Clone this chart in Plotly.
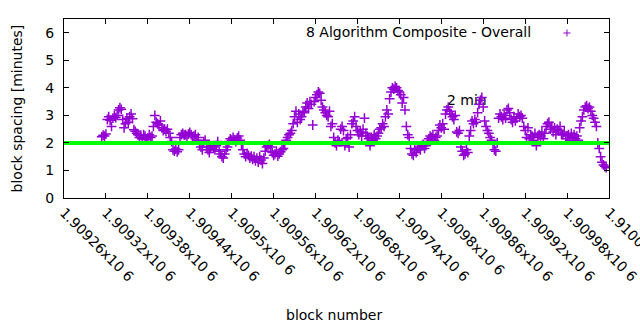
import plotly.graph_objects as go

# Block spacing (minutes) for the 8-algorithm composite, one sample every 2 blocks
block_start = 1909314
block_step = 2
spacing_min = [
    2.22, 2.28, 2.25, 2.32, 2.85, 2.95, 2.82, 2.60, 2.90, 2.98,
    2.92, 3.00, 3.20, 3.28, 3.22, 2.85, 2.55, 2.70, 2.90, 2.75,
    2.95, 3.05, 2.88, 2.48, 2.42, 2.35, 2.30, 2.20, 2.28, 2.15,
    2.30, 2.25, 2.12, 2.18, 2.30, 2.20, 2.25, 2.60, 3.00, 2.75,
    2.70, 2.65, 2.80, 2.55, 2.45, 2.50, 2.42, 2.50, 2.35, 2.20,
    2.05, 1.75, 1.70, 1.78, 1.68, 1.75, 2.20, 2.30, 2.35, 2.28,
    2.30, 2.25, 2.32, 2.38, 2.30, 2.22, 2.25, 2.30, 2.10, 2.20,
    1.95, 1.85, 1.75, 2.05, 2.10, 1.85, 1.75, 1.65, 1.80, 1.90,
    1.85, 1.75, 1.90, 2.05, 1.70, 1.60, 1.50, 1.45, 1.60, 1.75,
    1.85, 2.05, 2.15, 2.10, 2.20, 2.12, 2.05, 2.18, 2.25, 2.10,
    1.95, 1.75, 1.60, 1.50, 1.62, 1.55, 1.45, 1.52, 1.40, 1.50,
    1.35, 1.45, 1.30, 1.50, 1.38, 1.25, 1.45, 1.70, 1.85, 1.90,
    1.95, 1.85, 1.65, 1.55, 1.60, 1.70, 1.52, 1.60, 1.68, 1.75,
    1.80, 1.95, 2.10, 2.20, 2.30, 2.35, 2.45, 2.70, 2.95, 3.15,
    2.75, 3.05, 2.85, 2.95, 3.10, 3.15, 3.30, 3.45, 3.25, 3.50,
    3.40, 2.65, 3.50, 3.65, 3.75, 3.85, 3.80, 3.55, 3.30, 3.20,
    3.10, 3.00, 2.95, 3.15, 2.60, 2.70, 2.20, 2.00, 1.90, 2.10,
    2.05, 2.50, 2.60, 2.45, 1.90, 2.15, 2.20, 1.85, 2.30, 2.70,
    2.80, 2.95, 2.60, 2.45, 2.30, 2.40, 2.25, 2.50, 2.90, 2.35,
    2.25, 2.15, 1.90, 2.20, 2.10, 2.30, 2.15, 2.25, 2.35, 2.50,
    2.55, 2.70, 2.60, 2.95, 3.20, 3.05, 3.60, 3.85, 4.00, 3.95,
    4.05, 4.00, 3.90, 3.85, 3.75, 3.45, 3.65, 3.20, 2.60, 2.30,
    2.20, 1.80, 1.60, 1.55, 1.75, 1.65, 1.80, 1.85, 1.75, 1.90,
    1.95, 1.80, 1.90, 2.05, 2.15, 2.25, 2.20, 2.30, 2.10, 2.20,
    2.25, 2.45, 2.65, 2.55, 2.70, 2.50, 3.05, 3.20, 3.30, 3.15,
    3.05, 2.95, 2.85, 3.00, 2.40, 2.35, 2.45, 1.85, 1.70, 1.55,
    1.60, 1.75, 1.65, 2.25, 2.45, 2.80, 2.70, 2.85, 2.75, 3.10,
    3.40, 3.55, 3.65, 3.30, 2.80, 2.60, 2.45, 2.35, 2.20, 2.10,
    1.95, 1.75, 1.70, 2.00, 2.90, 3.05, 2.95, 2.85, 3.00, 2.90,
    3.20, 3.25, 3.10, 2.85, 2.75, 2.95, 2.80, 2.90, 3.05, 2.95,
    3.00, 2.90, 2.60, 2.45, 2.20, 2.55, 2.15, 2.30, 2.25, 2.10,
    2.35, 1.90, 2.20, 2.30, 2.25, 2.40, 2.15, 2.35, 2.60, 2.70,
    2.75, 2.50, 2.60, 2.40, 2.55, 2.30, 2.50, 2.45, 2.60, 2.35,
    2.30, 2.40, 2.15, 2.25, 2.30, 2.10, 2.35, 2.20, 2.30, 2.15,
    2.25, 2.10, 2.55, 2.80, 2.95, 3.20, 3.30, 3.35, 3.25, 3.30,
    3.15, 3.00, 2.90, 2.75, 2.60, 2.00, 1.80, 1.50, 1.30, 1.20,
    1.15, 1.10,
]
block_numbers = [block_start + block_step * i for i in range(len(spacing_min))]

# Axis setup
x_range = [1909260, 1910040]
x_tick_vals = [1909260 + 60 * k for k in range(14)]
x_tick_text = ["1.90926x10 6", "1.90932x10 6", "1.90938x10 6", "1.90944x10 6",
               "1.9095x10 6", "1.90956x10 6", "1.90962x10 6", "1.90968x10 6",
               "1.90974x10 6", "1.9098x10 6", "1.90986x10 6", "1.90992x10 6",
               "1.90998x10 6", "1.91004x10 6"]
y_range = [0, 6.5]
y_tick_vals = [0, 1, 2, 3, 4, 5, 6]
target_minutes = 2
target_label = "2 min"
target_label_pos = (1909808, 3.52)

series_name = "8 Algorithm Composite - Overall"
purple = "#9400d3"
green = "#00ff00"
font_family = "DejaVu Sans"

fig = go.Figure()

# Target label sits beneath the markers
fig.add_trace(go.Scatter(
    x=[target_label_pos[0]], y=[target_label_pos[1]],
    mode="text", text=[target_label], textposition="middle right",
    textfont=dict(family=font_family, size=14, color="black"),
    showlegend=False, hoverinfo="skip",
))

fig.add_trace(go.Scatter(
    x=block_numbers, y=spacing_min, mode="markers", name=series_name,
    marker=dict(symbol="cross-thin", size=7, color=purple,
                line=dict(color=purple, width=1.5)),
    showlegend=False,
))

# 2-minute reference line
fig.add_trace(go.Scatter(
    x=x_range, y=[target_minutes, target_minutes], mode="lines",
    line=dict(color=green, width=4), showlegend=False, hoverinfo="skip",
))

axis_common = dict(
    showline=True, linecolor="black", linewidth=1, mirror="ticks",
    ticks="inside", ticklen=5, tickcolor="black", showgrid=False,
    zeroline=False, tickfont=dict(family=font_family, size=14, color="black"),
    ticklabeloverflow="allow", automargin=False,
)

fig.update_xaxes(range=x_range, tickvals=x_tick_vals, ticktext=x_tick_text,
                 tickangle=45, **axis_common)
fig.update_yaxes(range=y_range, tickvals=y_tick_vals, ticklabelstandoff=6,
                 **axis_common)

# Key in the top-right corner: label followed by its marker sample
key_x, key_y = 0.9229, 0.9218
dx, dy = 3.5 / 545, 3.5 / 179
fig.add_shape(type="line", xref="paper", yref="paper",
              x0=key_x - dx, x1=key_x + dx, y0=key_y, y1=key_y,
              line=dict(color=purple, width=1))
fig.add_shape(type="line", xref="paper", yref="paper",
              x0=key_x, x1=key_x, y0=key_y - dy, y1=key_y + dy,
              line=dict(color=purple, width=1))

annotations = [
    dict(text=series_name, xref="paper", yref="paper", x=0.8606, y=0.927,
         xanchor="right", yanchor="middle", showarrow=False,
         font=dict(family=font_family, size=14, color="black")),
    dict(text="block spacing [minutes]", xref="paper", yref="paper",
         x=-0.0872, y=0.503, textangle=-90, xanchor="center", yanchor="middle",
         showarrow=False, font=dict(family=font_family, size=14, color="black")),
    dict(text="block number", xref="paper", yref="paper", x=0.495, y=-0.654,
         xanchor="center", yanchor="middle", showarrow=False,
         font=dict(family=font_family, size=14, color="black")),
]

fig.update_layout(
    width=640, height=330,
    margin=dict(l=64, r=31, t=19, b=132, pad=0, autoexpand=False),
    paper_bgcolor="white", plot_bgcolor="white",
    showlegend=False, annotations=annotations,
    font=dict(family=font_family, size=14, color="black"),
)

fig.write_html("out.html")
